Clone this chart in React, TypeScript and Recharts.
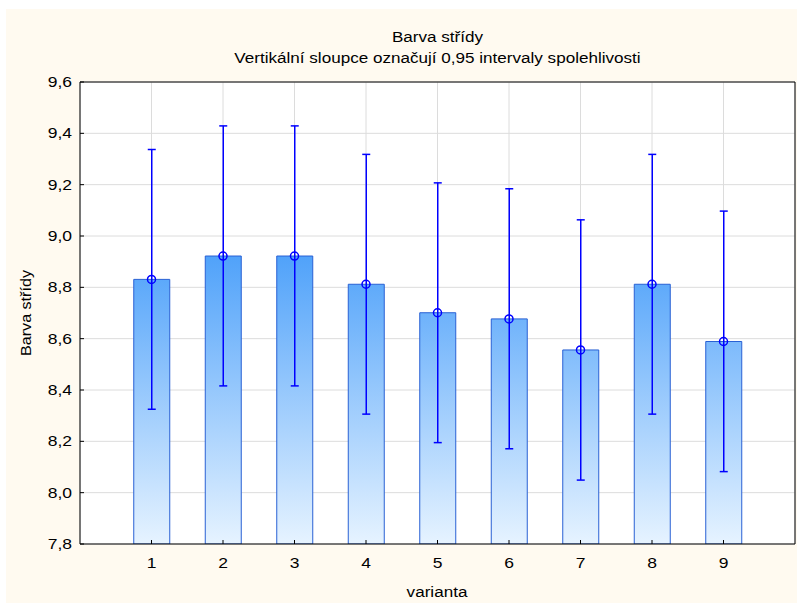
import {
  ComposedChart,
  Bar,
  Line,
  XAxis,
  YAxis,
  CartesianGrid,
  ErrorBar,
} from 'recharts';

// varianta 1..9, průměr a 0,95 interval spolehlivosti
const categories = ['1', '2', '3', '4', '5', '6', '7', '8', '9'];
const means = [8.831, 8.922, 8.922, 8.812, 8.701, 8.677, 8.556, 8.812, 8.589];
const lowerCI = [8.325, 8.416, 8.416, 8.306, 8.195, 8.171, 8.049, 8.306, 8.082];
const upperCI = [9.337, 9.429, 9.429, 9.318, 9.207, 9.184, 9.063, 9.318, 9.097];
const yTicks = [7.8, 8.0, 8.2, 8.4, 8.6, 8.8, 9.0, 9.2, 9.4, 9.6];

const data = categories.map((name, i) => ({
  name,
  mean: means[i],
  err: [means[i] - lowerCI[i], upperCI[i] - means[i]],
}));

const FONT = '"Liberation Sans", Arial, sans-serif';
const STRETCH = 1.22; // text in the original is drawn wider than plain Arial
const fmt = (v: number) => v.toFixed(1).replace('.', ',');

const YTick = ({ x, y, payload }: any) => (
  <text
    transform={`translate(${x},${y}) scale(1.25,1)`}
    textAnchor="end"
    dy="0.36em"
    fill="#000"
    fontSize={14}
    fontFamily={FONT}
  >
    {fmt(payload.value)}
  </text>
);

const XTick = ({ x, y, payload }: any) => (
  <text
    transform={`translate(${x},${y}) scale(1.25,1)`}
    textAnchor="middle"
    dy="0.71em"
    fill="#000"
    fontSize={14}
    fontFamily={FONT}
  >
    {payload.value}
  </text>
);

const textStyle = {
  position: 'absolute' as const,
  fontSize: 14,
  lineHeight: '18px',
  textAlign: 'center' as const,
  whiteSpace: 'nowrap' as const,
  color: '#000',
};

export default function App() {
  return (
    <div
      style={{
        position: 'absolute',
        left: 6,
        top: 9,
        width: 791,
        height: 594,
        background: '#FFFAF0',
        fontFamily: FONT,
      }}
    >
      <div style={{ ...textStyle, left: 74, width: 715, top: 19, transform: `scaleX(${STRETCH})` }}>
        Barva střídy
      </div>
      <div style={{ ...textStyle, left: 74, width: 715, top: 40, transform: `scaleX(${STRETCH})` }}>
        Vertikální sloupce označují 0,95 intervaly spolehlivosti
      </div>
      <ComposedChart
        width={791}
        height={594}
        data={data}
        margin={{ top: 72, right: 1, bottom: 29, left: 24 }}
        style={{ position: 'absolute', left: 0, top: 0 }}
      >
        <defs>
          <linearGradient id="barFill" gradientUnits="userSpaceOnUse" x1="0" y1="247" x2="0" y2="535">
            <stop offset="0%" stopColor="#50A2FA" />
            <stop offset="100%" stopColor="#E6F3FF" />
          </linearGradient>
        </defs>
        <CartesianGrid stroke="#dcdcdc" fill="#ffffff" />
        <XAxis
          dataKey="name"
          padding={{ left: 35.75, right: 35.75 }}
          height={30}
          tickSize={-4}
          tickMargin={18}
          stroke="#000"
          tick={<XTick />}
        />
        <XAxis
          xAxisId="top"
          orientation="top"
          dataKey="name"
          padding={{ left: 35.75, right: 35.75 }}
          height={1}
          tickSize={-4}
          tick={false}
          stroke="#000"
        />
        <YAxis
          domain={[7.8, 9.6]}
          ticks={yTicks}
          width={50}
          tickSize={-4}
          tickMargin={12}
          stroke="#000"
          allowDataOverflow
          tick={<YTick />}
        />
        <YAxis
          yAxisId="right"
          orientation="right"
          domain={[7.8, 9.6]}
          ticks={yTicks}
          width={1}
          tickSize={-4}
          tick={false}
          stroke="#000"
        />
        <Bar
          dataKey="mean"
          barSize={36}
          fill="url(#barFill)"
          stroke="#2860d4"
          strokeWidth={1}
          isAnimationActive={false}
        >
          <ErrorBar dataKey="err" direction="y" width={4} stroke="#0000ff" strokeWidth={1.5} />
        </Bar>
        <Line
          dataKey="mean"
          stroke="none"
          dot={{ r: 4, stroke: '#0000ff', strokeWidth: 1.5, fill: 'none' }}
          activeDot={false}
          isAnimationActive={false}
        />
      </ComposedChart>
      <div style={{ ...textStyle, left: 331, width: 200, top: 574, transform: `scaleX(${STRETCH})` }}>
        varianta
      </div>
      <div
        style={{
          ...textStyle,
          left: 20 - 100,
          width: 200,
          top: 304 - 9,
          transform: `rotate(-90deg) scaleX(1.15)`,
        }}
      >
        Barva střídy
      </div>
    </div>
  );
}
